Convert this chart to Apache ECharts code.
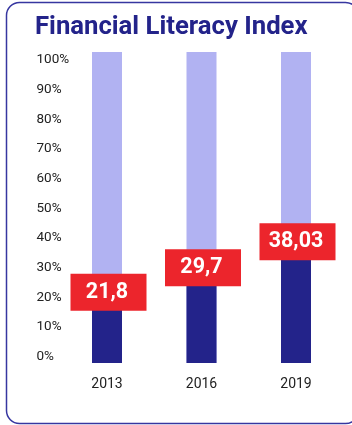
<!DOCTYPE html>
<html>
<head>
<meta charset="utf-8">
<title>Financial Literacy Index</title>
<script src="https://cdn.jsdelivr.net/npm/echarts@6/dist/echarts.min.js"></script>
<style>
  html, body { margin: 0; padding: 0; background: #ffffff; }
  #chart { width: 352px; height: 425px; }
</style>
</head>
<body>
<div id="chart"></div>
<script>
// Survey years and index values (percent)
const years = ['2013', '2016', '2019'];
const indexValues = [21.8, 29.7, 38.03];
const tickLabels = ['0%', '10%', '20%', '30%', '40%', '50%', '60%', '70%', '80%', '90%', '100%'];

const DARK = '#23238a';
const LIGHT = '#b1b2f2';
const RED = '#ec252c';
const FONT = 'Roboto, "Noto Sans", sans-serif';

const chart = echarts.init(document.getElementById('chart'), null, { renderer: 'canvas' });

function fmt(v) {
  return String(v).replace('.', ',');
}

chart.setOption({
  animation: false,
  backgroundColor: '#ffffff',
  title: {
    text: 'Financial Literacy Index',
    left: 35,
    top: 15,
    padding: 0,
    textStyle: { color: DARK, fontFamily: FONT, fontWeight: 'bold', fontSize: 25.7 }
  },
  graphic: [{
    type: 'rect',
    silent: true,
    z: -1,
    shape: { x: 6.5, y: 2.5, width: 352, height: 421, r: 13 },
    style: { fill: 'none', stroke: '#3636a0', lineWidth: 1.5 }
  }],
  grid: [
    // bars
    { left: 59.75, right: 8.75, top: 52, bottom: 62, containLabel: false },
    // percentage scale labels
    { left: 36.5, width: 10, top: 60, bottom: 68.3, containLabel: false }
  ],
  xAxis: [
    {
      gridIndex: 0,
      type: 'category',
      data: years,
      axisLine: { show: false },
      axisTick: { show: false },
      axisLabel: { color: '#222222', fontFamily: FONT, fontSize: 14, margin: 14 }
    },
    { gridIndex: 1, type: 'value', show: false, min: 0, max: 1 }
  ],
  yAxis: [
    {
      gridIndex: 0,
      type: 'value',
      min: 0,
      max: 100,
      interval: 10,
      show: false
    },
    {
      gridIndex: 1,
      type: 'value',
      min: 0,
      max: 100,
      interval: 10,
      axisLine: { show: false },
      axisTick: { show: false },
      splitLine: { show: false },
      axisLabel: {
        inside: true,
        margin: 0,
        align: 'left',
        color: '#222222',
        fontFamily: FONT,
        fontSize: 13.5,
        formatter: function (v) { return tickLabels[Math.round(v / 10)]; }
      }
    }
  ],
  series: [{
    type: 'bar',
    xAxisIndex: 0,
    yAxisIndex: 0,
    data: indexValues,
    barWidth: 30,
    itemStyle: { color: DARK },
    showBackground: true,
    backgroundStyle: { color: LIGHT },
    label: {
      show: true,
      position: ['55%', 0],
      offset: [0, -3],
      align: 'center',
      verticalAlign: 'middle',
      width: 73,
      height: 37,
      lineHeight: 37,
      padding: [0, 3, 0, 0],
      backgroundColor: RED,
      color: '#ffffff',
      fontFamily: FONT,
      fontWeight: 'bold',
      fontSize: 21.5,
      formatter: function (p) { return fmt(p.value); }
    }
  }]
});
</script>
</body>
</html>
